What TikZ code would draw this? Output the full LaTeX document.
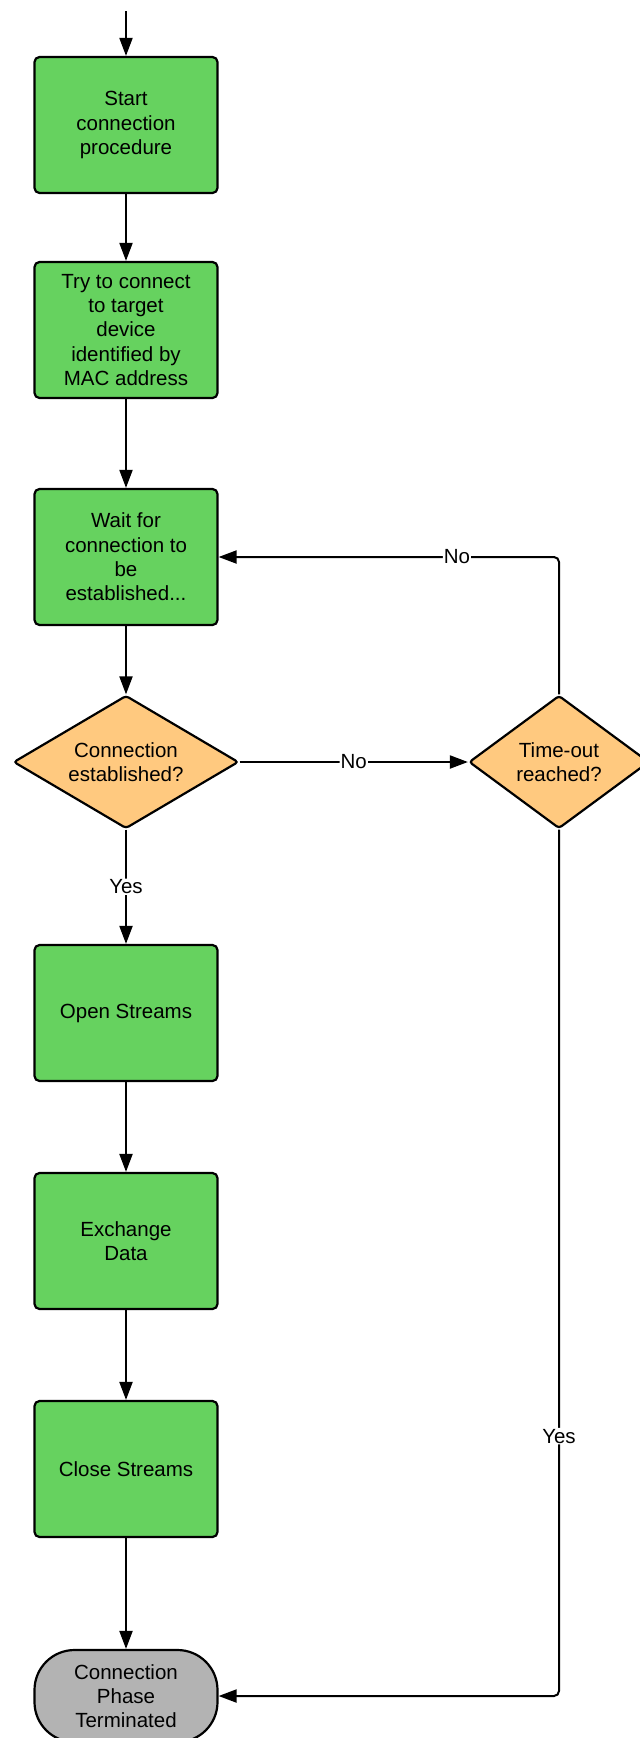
\documentclass[tikz,border=0pt]{standalone}
\usepackage{fontspec}
\setmainfont{Liberation Sans}
\usetikzlibrary{shapes.geometric,arrows.meta}
\definecolor{stepgreen}{HTML}{66D25F}
\definecolor{decorange}{HTML}{FFC97F}
\definecolor{endgray}{HTML}{B3B3B3}
\begin{document}
\begin{tikzpicture}[x=1pt,y=-1pt,
  every node/.style={font=\fontsize{20.5}{24.3}\selectfont, align=center},
  stepbox/.style={draw, line width=2.2pt, fill=stepgreen, rounded corners=5pt,
    minimum width=183pt, minimum height=136pt, inner sep=2pt},
  decision/.style={draw, line width=2.2pt, fill=decorange, diamond, rounded corners=3pt,
    inner sep=0pt},
  terminal/.style={draw, line width=2.2pt, fill=endgray, rounded corners=40pt,
    minimum width=183pt, minimum height=92pt, inner sep=0pt},
  flow/.style={line width=2pt, -{Triangle[length=18pt,width=13pt]}, rounded corners=5pt},
  lbl/.style={fill=white, inner sep=1pt}]
\useasboundingbox (0,0) rectangle (640,1738);
\clip (0,0) rectangle (640,1738);

% process column
\coordinate (entry) at (126,11);
\node[stepbox] (start) at (126,125) {Start\\connection\\procedure};
\node[stepbox] (try) at (126,330) {Try to connect\\to target\\device\\identified by\\MAC address};
\node[stepbox] (wait) at (126,557) {Wait for\\connection to\\be\\established...};
\node[decision, aspect=1.69, minimum width=225pt, minimum height=133pt] (est) at (126,762) {Connection\\established?};
\node[decision, aspect=1.35, minimum width=180pt, minimum height=133pt] (tout) at (559,762) {Time-out\\reached?};
\node[stepbox] (open) at (126,1013) {Open Streams};
\node[stepbox] (exch) at (126,1241) {Exchange\\Data};
\node[stepbox] (close) at (126,1469) {Close Streams};
\node[terminal] (term) at (126,1696) {Connection\\Phase\\Terminated};

% connectors
\draw[flow] (entry) -- (start);
\draw[flow] (start) -- (try);
\draw[flow] (try) -- (wait);
\draw[flow] (wait) -- (est);
\draw[flow] (est) -- node[lbl, pos=0.5] {Yes} (open);
\draw[flow] (est) -- node[lbl, pos=0.5] {No} (tout);
\draw[flow] (tout.north) |- node[lbl, pos=0.65] {No} (wait.east);
\draw[flow] (tout.south) |- node[lbl, pos=0.35] {Yes} (term.east);
\draw[flow] (open) -- (exch);
\draw[flow] (exch) -- (close);
\draw[flow] (close) -- (term);
\end{tikzpicture}
\end{document}
